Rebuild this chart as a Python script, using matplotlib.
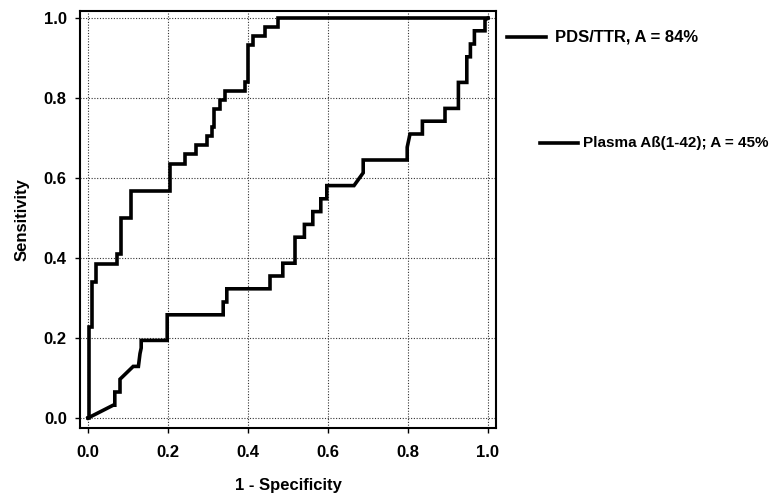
import matplotlib
matplotlib.use("Agg")
import matplotlib.pyplot as plt
from matplotlib.lines import Line2D

plt.rcParams['font.family'] = ['Liberation Sans', 'DejaVu Sans']

# PDS/TTR ROC curve (1 - specificity, sensitivity)
pds_fpr = [0.0, 0.003, 0.003, 0.011, 0.011, 0.021, 0.021, 0.073, 0.073, 0.082, 0.082,
           0.108, 0.108, 0.205, 0.205, 0.242, 0.242, 0.269, 0.269, 0.298, 0.298, 0.309,
           0.309, 0.316, 0.316, 0.33, 0.33, 0.3425, 0.3425, 0.3925, 0.3925, 0.40, 0.40,
           0.413, 0.413, 0.4425, 0.4425, 0.476, 0.476, 1.0]
pds_tpr = [0.0, 0.0, 0.227, 0.227, 0.341, 0.341, 0.386, 0.386, 0.409, 0.409, 0.50,
           0.50, 0.568, 0.568, 0.636, 0.636, 0.659, 0.659, 0.682, 0.682, 0.705, 0.705,
           0.727, 0.727, 0.773, 0.773, 0.795, 0.795, 0.818, 0.818, 0.841, 0.841, 0.932,
           0.932, 0.955, 0.955, 0.977, 0.977, 1.0, 1.0]

# Plasma Abeta(1-42) ROC curve
pla_fpr = [0.0, 0.063, 0.067, 0.067, 0.080, 0.080, 0.113, 0.126, 0.130, 0.133, 0.133,
           0.198, 0.198, 0.338, 0.338, 0.347, 0.347, 0.455, 0.455, 0.487, 0.487, 0.5175,
           0.5175, 0.541, 0.541, 0.562, 0.562, 0.582, 0.582, 0.597, 0.597, 0.665, 0.688,
           0.688, 0.798, 0.798, 0.805, 0.836, 0.836, 0.8925, 0.8925, 0.926, 0.926, 0.947,
           0.947, 0.956, 0.956, 0.966, 0.966, 0.9925, 0.9925, 1.0]
pla_tpr = [0.0, 0.032, 0.032, 0.065, 0.065, 0.097, 0.129, 0.129, 0.161, 0.175, 0.194,
           0.194, 0.258, 0.258, 0.290, 0.290, 0.323, 0.323, 0.355, 0.355, 0.387, 0.387,
           0.452, 0.452, 0.484, 0.484, 0.516, 0.516, 0.548, 0.548, 0.581, 0.581, 0.613,
           0.645, 0.645, 0.677, 0.710, 0.710, 0.742, 0.742, 0.774, 0.774, 0.839, 0.839,
           0.903, 0.903, 0.935, 0.935, 0.968, 0.968, 0.995, 1.0]

ticks = [0.0, 0.2, 0.4, 0.6, 0.8, 1.0]
tick_labels = ['0.0', '0.2', '0.4', '0.6', '0.8', '1.0']
labels = ['PDS/TTR, A = 84%', 'Plasma Aß(1-42); A = 45%']

fig = plt.figure(figsize=(7.75, 5.0), dpi=100)
ax = fig.add_axes([80/775, 72/500, 416/775, 417/500])

ax.plot(pds_fpr, pds_tpr, color='black', lw=2.6, solid_joinstyle='miter')
ax.plot(pla_fpr, pla_tpr, color='black', lw=2.6, solid_joinstyle='miter')

ax.set_xlim(-0.02, 1.02)
ax.set_ylim(-0.025, 1.0175)
ax.set_xticks(ticks)
ax.set_yticks(ticks)
ax.set_xticklabels(tick_labels, fontsize=12, fontweight='bold')
ax.set_yticklabels(tick_labels, fontsize=12, fontweight='bold')
ax.tick_params(direction='out', length=3.5, width=1, color='black')
ax.tick_params(axis='x', pad=9)
ax.tick_params(axis='y', pad=6)
ax.grid(True, linestyle=(0, (1, 1.5)), color='#333333', linewidth=0.8)
for s in ax.spines.values():
    s.set_linewidth(1.5)
    s.set_color('black')

ax.set_xlabel('1 - Specificity', fontsize=12, fontweight='bold', labelpad=13)
ax.set_ylabel('Sensitivity', fontsize=12, fontweight='bold', labelpad=10)

# legend-like annotations outside the axes
fig.add_artist(Line2D([507/775, 546/775], [1 - 37/500, 1 - 37/500], color='black', lw=2.6))
fig.text(555/775, 1 - 37/500, labels[0], fontsize=12, fontweight='bold', va='center', ha='left')
fig.add_artist(Line2D([540/775, 578/775], [1 - 143/500, 1 - 143/500], color='black', lw=2.6))
fig.text(583/775, 1 - 143/500, labels[1], fontsize=11, fontweight='bold', va='center', ha='left')

fig.savefig('out.png', dpi=100)
